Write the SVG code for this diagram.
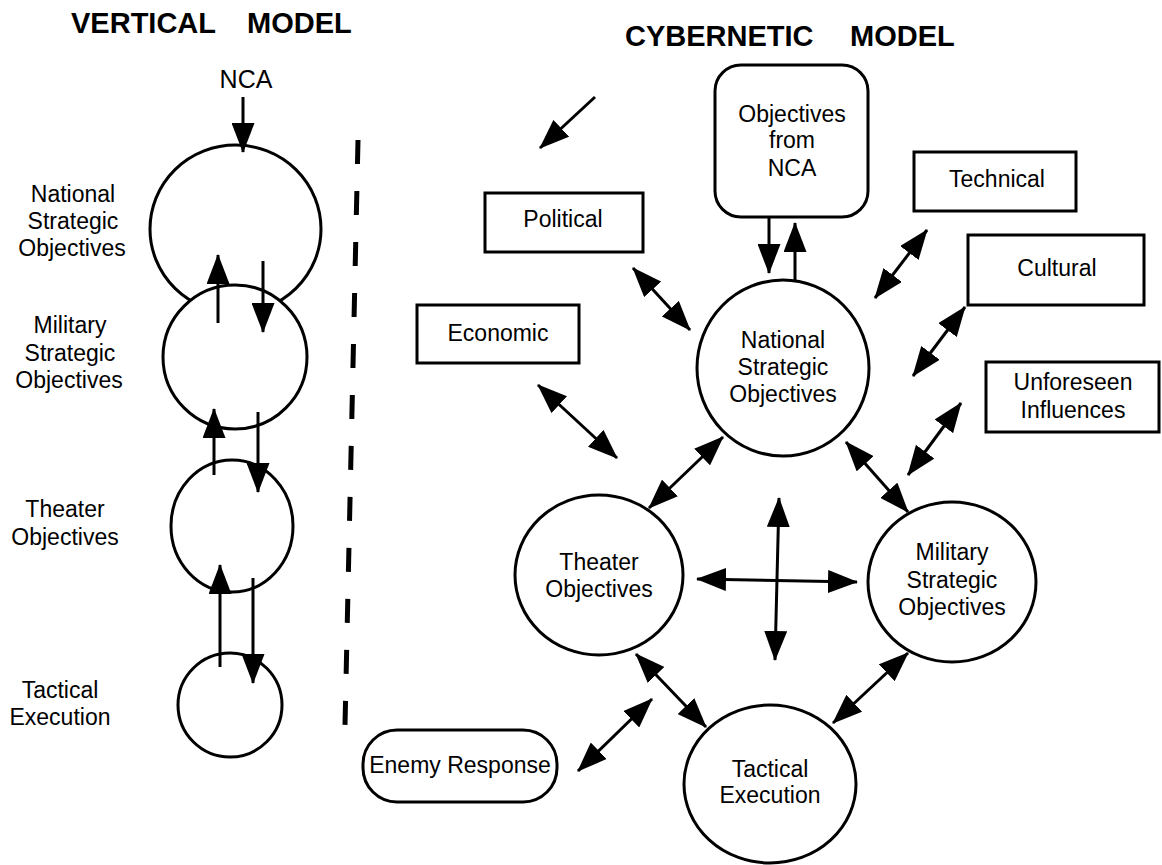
<svg xmlns="http://www.w3.org/2000/svg" width="1162" height="865" viewBox="0 0 1162 865">
<style>
.t{font-family:"Liberation Sans",Arial,sans-serif;font-size:23px;fill:#000;text-anchor:middle}
.h{font-family:"Liberation Sans",Arial,sans-serif;font-size:29px;font-weight:bold;fill:#000}
.n{fill:#fff;stroke:#000;stroke-width:3}
.c line{stroke:#000;stroke-width:3;fill:none}
.a{marker-end:url(#ah)}
.d{marker-start:url(#ah);marker-end:url(#ah)}
</style>
<defs>
<marker id="ah" markerUnits="userSpaceOnUse" markerWidth="30" markerHeight="23" refX="29" refY="11.5" orient="auto-start-reverse" viewBox="0 0 30 23">
<path d="M0,0 L30,11.5 L0,23 z" fill="#000"/>
</marker>
</defs>
<rect width="1162" height="865" fill="#fff"/>
<g id="titles">
<text class="h" x="71" y="33">VERTICAL</text>
<text class="h" x="247" y="33">MODEL</text>
<text class="h" x="625" y="46">CYBERNETIC</text>
<text class="h" x="850" y="46">MODEL</text>
</g>
<g id="divider">
<line x1="358" y1="140" x2="345" y2="725" stroke="#000" stroke-width="5" stroke-dasharray="24 27"/>
</g>
<g id="v-nca"><text class="t" x="246" y="88" style="font-size:25px">NCA</text></g>
<g id="v-national">
<ellipse class="n" cx="235.5" cy="229" rx="85.5" ry="84"/>
<text class="t" x="73" y="202">National</text>
<text class="t" x="73" y="229">Strategic</text>
<text class="t" x="72" y="256">Objectives</text>
</g>
<g id="v-military">
<circle class="n" cx="235" cy="357" r="72"/>
<text class="t" x="70" y="333">Military</text>
<text class="t" x="70" y="361">Strategic</text>
<text class="t" x="69" y="388">Objectives</text>
</g>
<g id="v-theater">
<ellipse class="n" cx="232" cy="526" rx="61" ry="66"/>
<text class="t" x="65" y="517">Theater</text>
<text class="t" x="65" y="545">Objectives</text>
</g>
<g id="v-tactical">
<circle class="n" cx="230" cy="705" r="52"/>
<text class="t" x="60" y="698">Tactical</text>
<text class="t" x="60" y="725">Execution</text>
</g>
<g id="c-nca">
<rect class="n" x="715" y="65" width="153" height="152" rx="26"/>
<text class="t" x="792" y="122">Objectives</text>
<text class="t" x="792" y="148">from</text>
<text class="t" x="792" y="176">NCA</text>
</g>
<g id="c-political">
<rect class="n" x="485" y="193" width="158" height="59"/>
<text class="t" x="563" y="227">Political</text>
</g>
<g id="c-economic">
<rect class="n" x="417" y="305" width="162" height="58"/>
<text class="t" x="498" y="341">Economic</text>
</g>
<g id="c-technical">
<rect class="n" x="914" y="152" width="162" height="59"/>
<text class="t" x="997" y="187">Technical</text>
</g>
<g id="c-cultural">
<rect class="n" x="968" y="235" width="176" height="70"/>
<text class="t" x="1057" y="276">Cultural</text>
</g>
<g id="c-unforeseen">
<rect class="n" x="986" y="362" width="173" height="70"/>
<text class="t" x="1073" y="390">Unforeseen</text>
<text class="t" x="1073" y="418">Influences</text>
</g>
<g id="c-enemy">
<rect class="n" x="363" y="730" width="194" height="72" rx="34"/>
<text class="t" x="460" y="773">Enemy Response</text>
</g>
<g id="c-national">
<ellipse class="n" cx="783" cy="368" rx="86" ry="88"/>
<text class="t" x="783" y="348">National</text>
<text class="t" x="783" y="375">Strategic</text>
<text class="t" x="783" y="402">Objectives</text>
</g>
<g id="c-theater">
<ellipse class="n" cx="599" cy="575" rx="84" ry="80"/>
<text class="t" x="599" y="570">Theater</text>
<text class="t" x="599" y="597">Objectives</text>
</g>
<g id="c-military">
<ellipse class="n" cx="952" cy="582" rx="84" ry="80"/>
<text class="t" x="952" y="560">Military</text>
<text class="t" x="952" y="588">Strategic</text>
<text class="t" x="952" y="615">Objectives</text>
</g>
<g id="c-tactical">
<ellipse class="n" cx="770" cy="784" rx="86" ry="79"/>
<text class="t" x="770" y="777">Tactical</text>
<text class="t" x="770" y="803">Execution</text>
</g>
<g id="connectors" class="c">
<line class="a" x1="243" y1="97" x2="243" y2="152"/>
<line class="a" x1="218" y1="323" x2="218" y2="255"/>
<line class="a" x1="263" y1="261" x2="263" y2="332"/>
<line class="a" x1="214" y1="475" x2="214" y2="409"/>
<line class="a" x1="258" y1="412" x2="258" y2="492"/>
<line class="a" x1="220" y1="667" x2="220" y2="565"/>
<line class="a" x1="253" y1="578" x2="253" y2="683"/>
<line class="a" x1="595" y1="97" x2="540" y2="148"/>
<line class="a" x1="769" y1="218" x2="769" y2="273"/>
<line class="a" x1="795" y1="280" x2="795" y2="223"/>
<line class="d" x1="633" y1="268" x2="690" y2="330"/>
<line class="d" x1="927" y1="230" x2="875" y2="298"/>
<line class="d" x1="965" y1="307" x2="913" y2="376"/>
<line class="d" x1="961" y1="403" x2="908" y2="475"/>
<line class="d" x1="538" y1="385" x2="617" y2="458"/>
<line class="d" x1="723" y1="437" x2="649" y2="508"/>
<line class="d" x1="846" y1="442" x2="908" y2="512"/>
<line class="d" x1="779" y1="498" x2="775" y2="660"/>
<line class="d" x1="697" y1="579" x2="857" y2="582"/>
<line class="d" x1="636" y1="654" x2="706" y2="727"/>
<line class="d" x1="652" y1="699" x2="578" y2="771"/>
<line class="d" x1="908" y1="653" x2="833" y2="723"/>
</g>
</svg>
